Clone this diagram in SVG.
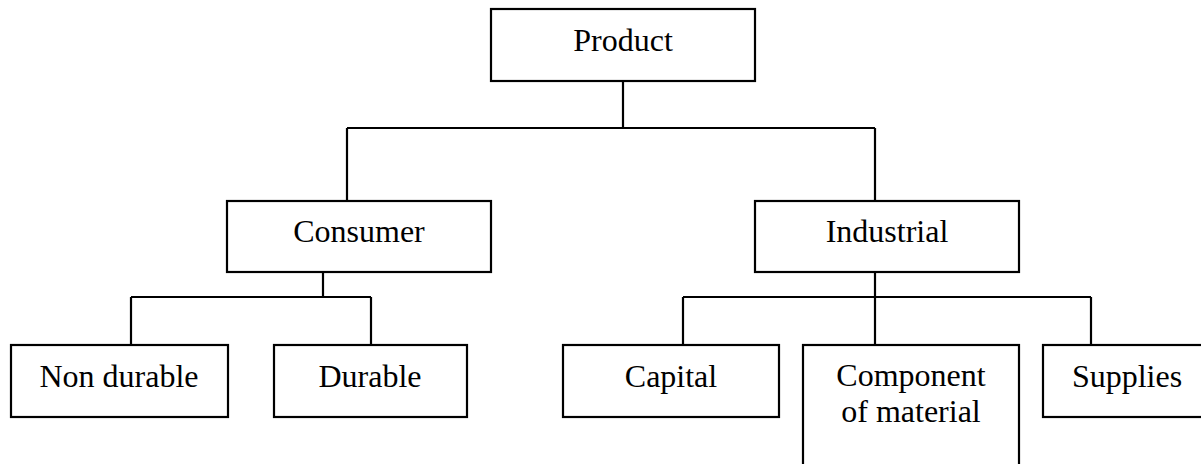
<svg xmlns="http://www.w3.org/2000/svg" width="1201" height="464" viewBox="0 0 1201 464">
<style>
.box{fill:#fff;stroke:#000;stroke-width:2.2}
.lbl{font-family:"Liberation Serif","Times New Roman",serif;font-size:32px;fill:#000;text-anchor:middle}
.con{fill:none;stroke:#000;stroke-width:2.2}
</style>
<rect width="1201" height="464" fill="#fff"/>
<g id="connectors">
<path class="con" d="M623 81V128M347 128H875M347 128V201M875 128V201"/>
<path class="con" d="M323 272V297M131 297H371M131 297V345M371 297V345"/>
<path class="con" d="M875 272V297M683 297H1091M683 297V345M875 297V345M1091 297V345"/>
</g>
<g id="product"><rect class="box" x="491" y="9" width="264" height="72"/><text class="lbl" x="623" y="51">Product</text></g>
<g id="consumer"><rect class="box" x="227" y="201" width="264" height="71"/><text class="lbl" x="359" y="242">Consumer</text></g>
<g id="industrial"><rect class="box" x="755" y="201" width="264" height="71"/><text class="lbl" x="887" y="242">Industrial</text></g>
<g id="nondurable"><rect class="box" x="11" y="345" width="217" height="72"/><text class="lbl" x="119" y="387">Non durable</text></g>
<g id="durable"><rect class="box" x="274" y="345" width="193" height="72"/><text class="lbl" x="370" y="387">Durable</text></g>
<g id="capital"><rect class="box" x="563" y="345" width="216" height="72"/><text class="lbl" x="671" y="387">Capital</text></g>
<g id="component"><rect class="box" x="803" y="345" width="216" height="130"/><text class="lbl" x="911" y="386">Component</text><text class="lbl" x="911" y="422">of material</text></g>
<g id="supplies"><rect class="box" x="1043" y="345" width="170" height="72"/><text class="lbl" x="1127" y="387">Supplies</text></g>
</svg>
